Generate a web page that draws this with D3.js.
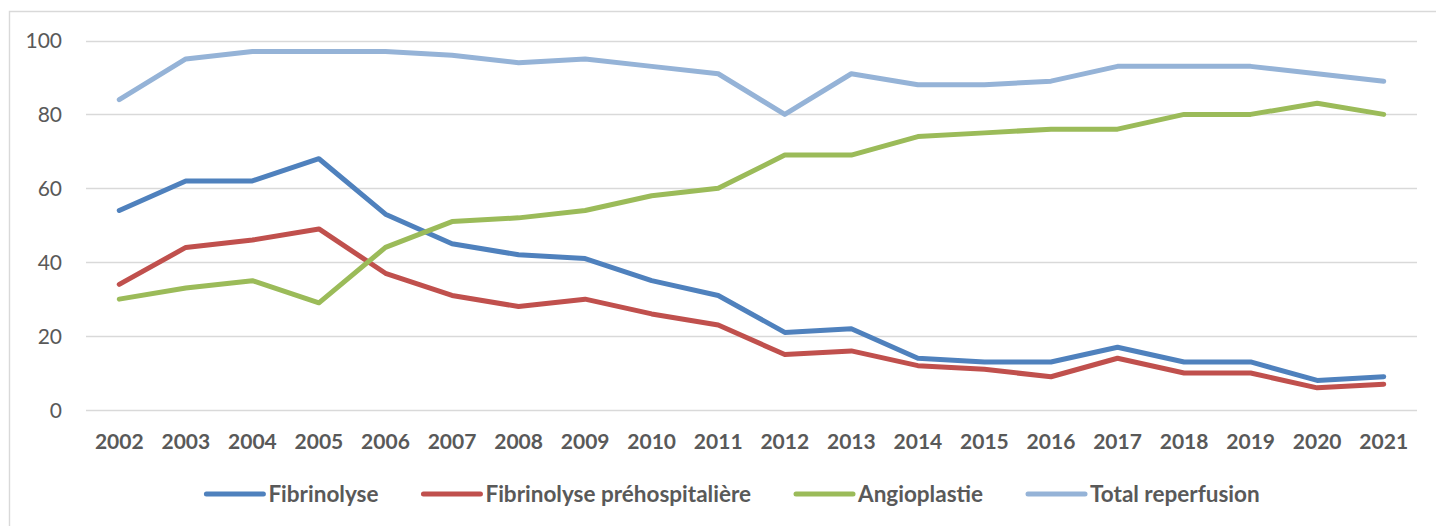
<!DOCTYPE html>
<html><head><meta charset="utf-8">
<script src="https://cdn.jsdelivr.net/npm/d3@7"></script>
<style>body{margin:0;background:#fff}svg{display:block}</style>
</head><body>
<script>
const years = ["2002","2003","2004","2005","2006","2007","2008","2009","2010","2011","2012","2013","2014","2015","2016","2017","2018","2019","2020","2021"];
const fibrinolyse = [54,62,62,68,53,45,42,41,35,31,21,22,14,13,13,17,13,13,8,9];
const prehospitaliere = [34,44,46,49,37,31,28,30,26,23,15,16,12,11,9,14,10,10,6,7];
const angioplastie = [30,33,35,29,44,51,52,54,58,60,69,69,74,75,76,76,80,80,83,80];
const totalReperfusion = [84,95,97,97,97,96,94,95,93,91,80,91,88,88,89,93,93,93,91,89];
const yTicks = [0,20,40,60,80,100];
const seriesNames = ["Fibrinolyse","Fibrinolyse préhospitalière","Angioplastie","Total reperfusion"];
const seriesColors = ["#4F81BD","#C0504D","#9BBB59","#95B3D7"];
const seriesValues = [fibrinolyse, prehospitaliere, angioplastie, totalReperfusion];

const W = 1436, H = 526;
const svg = d3.select("body").append("svg").attr("width", W).attr("height", H);
const font = "Lato, 'Open Sans', sans-serif";
const textCol = "#595959";

// frame
svg.append("path").attr("d", `M9.5,${H+5} V11.5 H${W+5}`).attr("fill","none").attr("stroke","#D9D9D9").attr("stroke-width",1.4);

const x = d3.scaleBand().domain(years).range([86, 1417]);
const y = d3.scaleLinear().domain([0,100]).range([410, 40.5]);

// gridlines
svg.append("g").selectAll("line").data(yTicks).join("line")
  .attr("x1", 86).attr("x2", 1417)
  .attr("y1", d => Math.round(y(d)) + 0.5).attr("y2", d => Math.round(y(d)) + 0.5)
  .attr("stroke", "#D9D9D9").attr("stroke-width", 1.3);

// y axis labels
const yAxis = d3.axisLeft(y).tickValues(yTicks).tickSize(0).tickPadding(0);
const gy = svg.append("g").attr("transform","translate(62,0)").call(yAxis);
gy.select(".domain").remove();
gy.selectAll("text").attr("font-family", font).attr("font-size", 21).attr("fill", textCol).attr("dy","0.35em");

// x axis labels
const xAxis = d3.axisBottom(x).tickSize(0).tickPadding(0);
const gx = svg.append("g").attr("transform","translate(0,449)").call(xAxis);
gx.select(".domain").remove();
gx.selectAll("text").attr("font-family", font).attr("font-size", 21).attr("font-weight","bold").attr("fill", textCol).attr("dy", 0);

// lines
const line = d3.line().x((d,i) => x(years[i]) + x.bandwidth()/2).y(d => y(d));
svg.append("g").selectAll("path").data(seriesValues).join("path")
  .attr("d", d => line(d))
  .attr("fill","none")
  .attr("stroke", (d,i) => seriesColors[i])
  .attr("stroke-width", 5)
  .attr("stroke-linejoin","round")
  .attr("stroke-linecap","round");

// legend
const lg = svg.append("g");
const items = lg.selectAll("g").data(seriesNames).join("g");
items.append("line").attr("x1", 0).attr("x2", 57).attr("y1", 0).attr("y2", 0)
  .attr("stroke", (d,i) => seriesColors[i]).attr("stroke-width", 5).attr("stroke-linecap","round");
items.append("text").attr("x", 62).attr("y", 0).attr("dy","0.35em")
  .attr("font-family", font).attr("font-size", 22.5).attr("font-weight","bold").attr("fill", textCol)
  .text(d => d);
let widths = [];
items.each(function(){ widths.push(this.getBBox().width); });
const gap = 45;
const total = d3.sum(widths) + gap*(widths.length-1);
let cx = 733 - total/2;
items.attr("transform", (d,i) => { const t = `translate(${cx},494)`; cx += widths[i] + gap; return t; });
</script>
</body></html>
